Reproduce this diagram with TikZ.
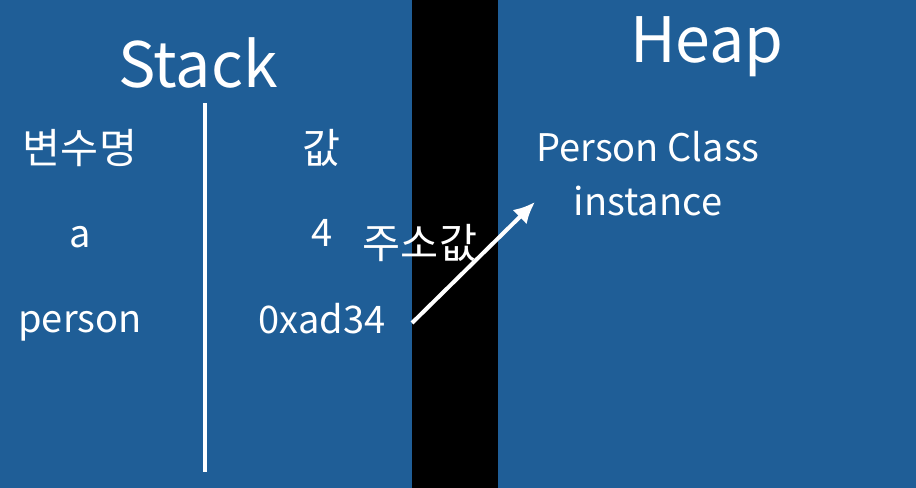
\documentclass[tikz,border=0pt]{standalone}
\usepackage{fontspec}
\setmainfont{Noto Sans CJK KR}
\usetikzlibrary{positioning,arrows.meta}
\definecolor{Bg}{RGB}{31,94,151}
\tikzstyle{big}=[text=white,font=\fontsize{47}{52}\selectfont,inner sep=0pt]
\tikzstyle{txt}=[text=white,font=\fontsize{28.5}{33}\selectfont,inner sep=0pt]
\tikzstyle{ktxt}=[txt,font=\fontsize{31}{36}\selectfont]
\tikzstyle{wline}=[-,draw=white,line width=3pt]

\begin{document}
\begin{tikzpicture}[x=0.75pt,y=-0.75pt]
\fill[Bg] (0,0) rectangle (916,488);
\useasboundingbox (0,0) rectangle (916,488);
\fill[black] (412,0) rectangle (498,488);
\node[big] (S) at (198,63) {Stack};
\node[big] (H) at (707,47) {Heap};
\coordinate (T) at (205,103);
\coordinate (B) at (205,472);
\draw[wline] (T) to (B);
\node[ktxt] (V) at (80,148) {변수명};
\node[ktxt] (G) at (322,148) {값};
\node[txt] (A) at (80,237) {a};
\node[txt] (F) at (322,233) {4};
\node[txt] (P) at (80,326) {person};
\node[txt] (X) at (322,319) {0xad34};
\node[ktxt] (J) at (420,243) {주소값};
\node[txt] (I1) at (648,147) {Person Class};
\node[txt] (I2) at (648,201) {instance};
\coordinate (O) at (412,323);
\coordinate (E) at (535,202);
\draw[wline,-{Latex[length=16pt,width=15pt]}] (O) to (E);
\end{tikzpicture}
\end{document}
